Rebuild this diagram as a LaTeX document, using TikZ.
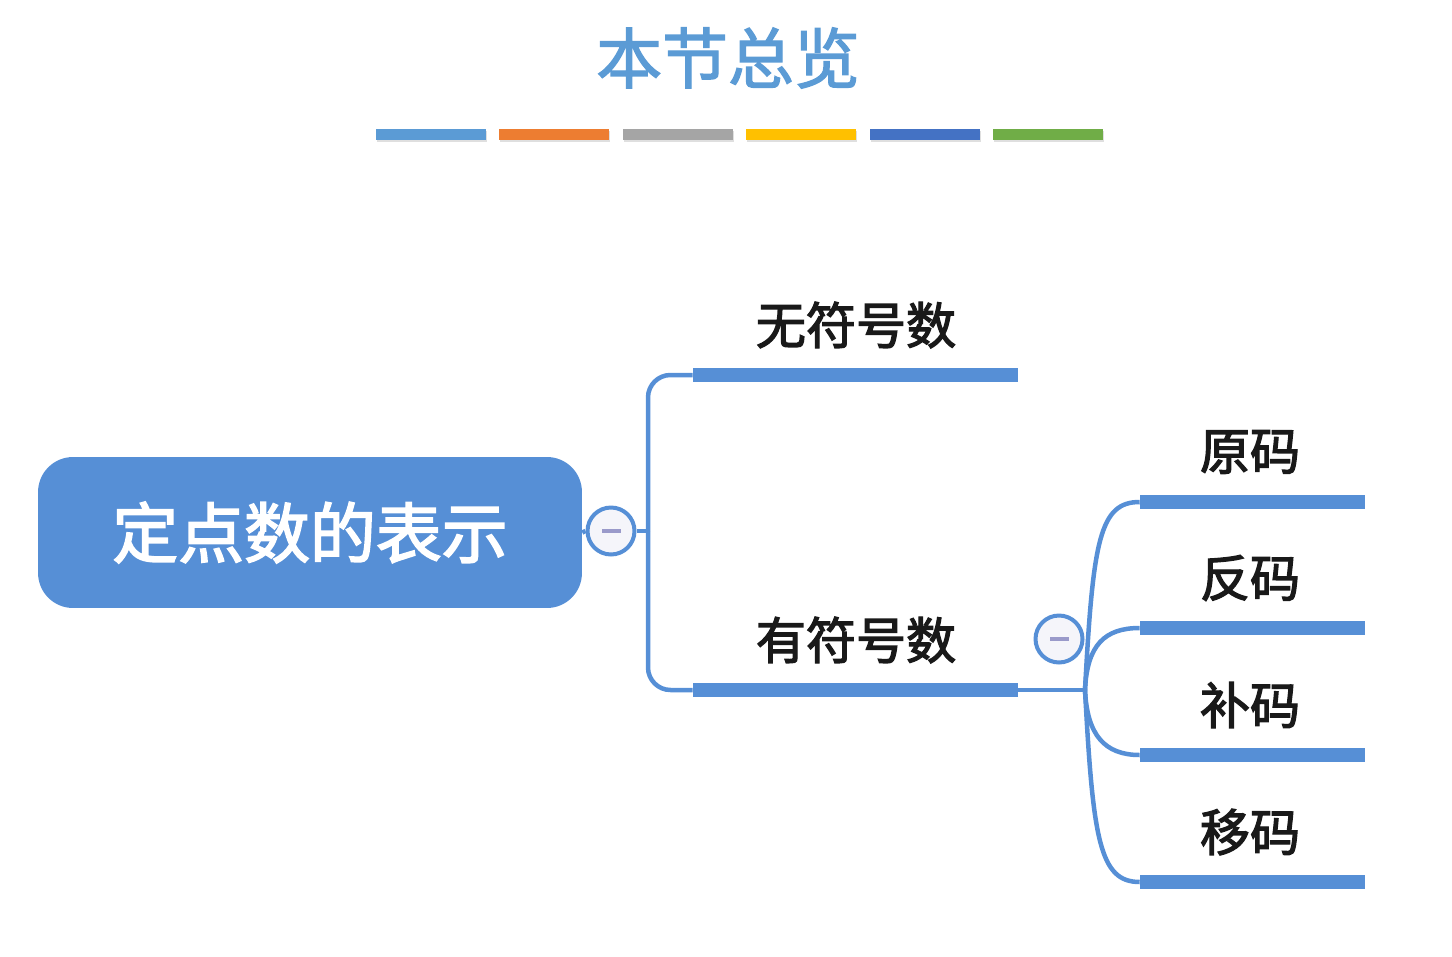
\documentclass[tikz,border=0pt]{standalone}
\usepackage{fontspec}
\newfontfamily\cjk[FakeBold=2.5]{Noto Sans CJK SC}
\newfontfamily\cjktitle[FakeBold=2]{Noto Sans CJK SC}
\usetikzlibrary{shadows}
\definecolor{mapblue}{RGB}{86,143,214}
\definecolor{ttlblue}{RGB}{91,155,213}
\definecolor{foldfill}{RGB}{245,245,250}
\definecolor{minusc}{RGB}{154,154,202}
\definecolor{cA}{RGB}{91,155,213}
\definecolor{cB}{RGB}{237,125,49}
\definecolor{cC}{RGB}{165,165,165}
\definecolor{cD}{RGB}{255,192,0}
\definecolor{cE}{RGB}{68,114,196}
\definecolor{cF}{RGB}{112,173,71}
\tikzset{
  lbl/.style={font=\cjk\fontsize{28.5}{32}\selectfont, text=black!90, inner sep=0pt},
  bar/.style={fill=mapblue, inner sep=0pt, minimum height=0.28cm},
  link/.style={draw=mapblue, line width=0.09cm},
  strip/.style={inner sep=0pt, minimum width=2.2cm, minimum height=0.22cm,
    drop shadow={opacity=0.25, shadow xshift=0.02cm, shadow yshift=-0.05cm}},
  root/.style={fill=mapblue, rounded corners=0.7cm, minimum width=10.88cm,
    minimum height=3.02cm, text=white, font=\cjk\fontsize{37.5}{40}\selectfont},
  fold/.style={circle, draw=mapblue, line width=0.08cm, fill=foldfill,
    minimum size=0.94cm, inner sep=0pt,
    path picture={\fill[minusc] ([xshift=-0.19cm,yshift=-0.035cm]path picture bounding box.center)
      rectangle ([xshift=0.19cm,yshift=0.035cm]path picture bounding box.center);}},
}
\begin{document}
\begin{tikzpicture}[x=0.02cm,y=-0.02cm]
\useasboundingbox (0,0) rectangle (1452,956);
% title and colour strips
\node[text=ttlblue, font=\cjktitle\fontsize{37.5}{40}\selectfont, inner sep=0pt] (ttl) at (728,58) {本节总览};
\foreach \c [count=\i] in {cA,cB,cC,cD,cE,cF}
  \node[strip, fill=\c] (strip\i) at ({431+123.4*(\i-1)},134.5) {};
% root
\node[root] (root) at (310,532.5) {定点数的表示};
\node[fold] (fold1) at (611,531) {};
\coordinate (fork1) at (648,531);
% first level
\node[bar, minimum width=6.5cm] (unsig) at (855.5,375) {};
\node[bar, minimum width=6.5cm] (sig) at (855.5,690) {};
\node[lbl] (unsigtxt) at (856,325) {无符号数};
\node[lbl] (sigtxt) at (856,640) {有符号数};
\draw[link] (root.east) -- (fold1.west);
\draw[link] (fold1.east) -- (fork1);
\draw[link, rounded corners=0.45cm] (fork1) |- (unsig.west);
\draw[link, rounded corners=0.45cm] (fork1) |- (sig.west);
% second level
\node[fold] (fold2) at (1059,639) {};
\coordinate (fork2) at (1085,690);
\node[bar, minimum width=4.5cm] (orig) at (1252.5,502) {};
\node[bar, minimum width=4.5cm] (inv) at (1252.5,628) {};
\node[bar, minimum width=4.5cm] (comp) at (1252.5,755) {};
\node[bar, minimum width=4.5cm] (bias) at (1252.5,882) {};
\node[lbl] (origtxt) at (1250,452) {原码};
\node[lbl] (invtxt) at (1250,578) {反码};
\node[lbl] (comptxt) at (1250,705) {补码};
\node[lbl] (biastxt) at (1250,832) {移码};
\draw[link] (sig.east) -- (fork2);
\draw[link] (fork2) .. controls +(8,-150) and +(-40,0) .. (orig.west);
\draw[link] (fork2) .. controls +(2,-45) and +(-35,0) .. (inv.west);
\draw[link] (fork2) .. controls +(2,45) and +(-35,0) .. (comp.west);
\draw[link] (fork2) .. controls +(8,150) and +(-40,0) .. (bias.west);
\end{tikzpicture}
\end{document}
